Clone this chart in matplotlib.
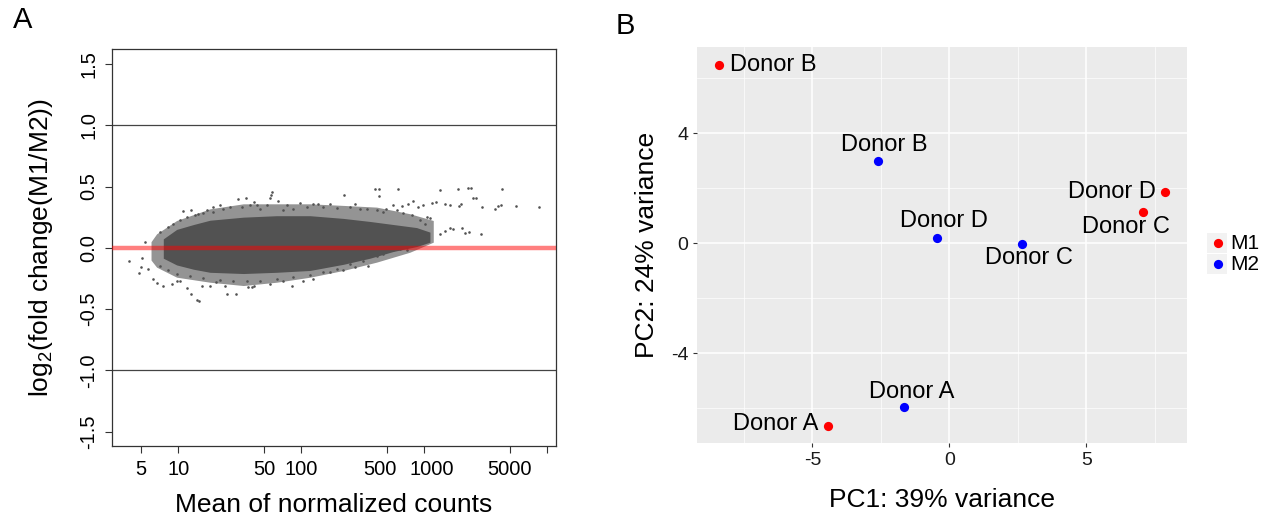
import numpy as np
import matplotlib
matplotlib.use("Agg")
from matplotlib import pyplot as plt
from matplotlib.patches import Rectangle
from matplotlib.ticker import NullLocator
from matplotlib.transforms import ScaledTranslation

plt.rcParams["font.family"] = ["Liberation Sans", "DejaVu Sans"]

# ---- panel A: MA plot (dense core as envelopes + individually read points)
core_mean = [7.55, 9.7, 13.3, 18.1, 33.8, 63.1, 118, 220, 363, 562, 870, 1117]
core_hi = [0.073, 0.150, 0.190, 0.225, 0.250, 0.262, 0.262, 0.240, 0.215, 0.190, 0.165, 0.128]
core_lo = [-0.085, -0.140, -0.175, -0.200, -0.210, -0.200, -0.185, -0.135, -0.085, -0.030, 0.010, 0.046]

halo_mean = [6.0, 6.66, 9.7, 18.1, 33.8, 63.1, 118, 220, 411, 767, 1189]
halo_hi = [0.05, 0.114, 0.223, 0.318, 0.359, 0.359, 0.359, 0.346, 0.332, 0.278, 0.223]
halo_lo = [-0.10, -0.158, -0.240, -0.281, -0.308, -0.281, -0.240, -0.185, -0.117, -0.036, 0.046]

out_mean = [398, 432, 609, 1346, 1898, 2292, 2409, 4335, 429, 224, 2500, 2630,
            2978, 3777, 4020, 4227, 5600, 8610, 1152, 1250, 1479, 1626, 1923, 1996,
            2905, 2335, 2153, 2023, 1626, 1730, 1479, 1346, 817, 986, 898, 1050,
            1117, 744, 657, 561, 495, 57.5, 56.8, 55.7, 97.7, 125, 138, 171, 274,
            301, 65.2, 35.5, 30.8, 41.3, 43.4, 21.8, 19.1, 17.0, 12.8, 11.0, 14.6, 71.6,
            3.97, 4.82, 5.04, 5.36, 6.26, 6.66, 7.55, 9.7, 11.7, 12.8, 14.3, 14.8,
            18.1, 24.0, 24.8, 29.5, 37.1, 39.5, 41.3, 55.7, 83.6, 104, 124, 171, 220,
            274, 320, 352, 466, 527, 721, 5.70, 4.94, 8.83, 10.3, 15.5, 20.3, 71.6]
out_lfc = [0.482, 0.482, 0.476, 0.468, 0.482, 0.487, 0.487, 0.482, 0.422, 0.427, 0.408, 0.408,
           0.337, 0.313, 0.340, 0.346, 0.340, 0.337, 0.365, 0.373, 0.354, 0.348, 0.343, 0.359,
           0.109, 0.128, 0.120, 0.163, 0.161, 0.155, 0.136, 0.114, 0.381, 0.351, 0.332, 0.250,
           0.242, 0.359, 0.340, 0.346, 0.318, 0.455, 0.427, 0.408, 0.365, 0.359, 0.354, 0.359, 0.359,
           0.318, 0.378, 0.408, 0.400, 0.373, 0.351, 0.351, 0.337, 0.305, 0.305, 0.297, 0.278, 0.305,
           -0.104, -0.207, -0.082, 0.046, -0.254, -0.289, -0.308, -0.267, -0.327, -0.376, -0.430, -0.438,
           -0.308, -0.308, -0.376, -0.376, -0.316, -0.321, -0.308, -0.294, -0.308, -0.267, -0.254, -0.199, -0.185,
           -0.158, -0.104, -0.150, -0.049, -0.022, -0.017, -0.177, -0.158, -0.294, -0.267, -0.308, -0.281, -0.267]

# points along the fuzzy upper and lower edges of the cloud
edge_mean = [7.10, 8.30, 9.12, 10.3, 11.7, 13.7, 16.0, 19.3, 23.2, 26.4, 32.8, 38.3, 46.2, 52.4,
             76.2, 86.3, 111, 151, 194, 249, 341, 411, 466, 598, 678, 793, 927, 1019,
             7.10, 8.30, 9.7, 12.4, 16.0, 21.8, 28.0, 36.0, 46.2, 63.1, 86.3, 118, 151, 194,
             249, 320, 411, 561, 637]
edge_lfc = [0.128, 0.169, 0.196, 0.223, 0.250, 0.264, 0.283, 0.291, 0.318, 0.332, 0.332, 0.346, 0.318, 0.346,
            0.346, 0.318, 0.332, 0.337, 0.327, 0.332, 0.318, 0.310, 0.291, 0.305, 0.283, 0.264, 0.223, 0.196,
            -0.145, -0.185, -0.213, -0.234, -0.245, -0.262, -0.267, -0.273, -0.267, -0.254, -0.240, -0.218, -0.199, -0.172,
            -0.136, -0.082, -0.063, -0.022, -0.008]

xticks_a = [5, 10, 50, 100, 500, 1000, 5000, 10000]
xticklabels_a = ["5", "10", "50", "100", "500", "1000", "5000", ""]
yticks_a = [-1.5, -1.0, -0.5, 0.0, 0.5, 1.0, 1.5]

# ---- panel B: PCA
donors = ["Donor A", "Donor B", "Donor C", "Donor D"]
m1_pc1 = [-4.44, -8.41, 7.08, 7.85]
m1_pc2 = [-6.63, 6.47, 1.14, 1.88]
m2_pc1 = [-1.66, -2.61, 2.65, -0.45]
m2_pc2 = [-5.95, 2.99, -0.01, 0.18]
xticks_b = [-5, 0, 5]
yticks_b = [-4, 0, 4]
groups = ["M1", "M2"]
group_colors = ["#FF0000", "#0000FF"]

# label placement (offset in points, alignment) per donor
m1_lab = [((-6.8, 1.0), "right"), ((8, 0), "left"), ((-12.8, -10.5), "center"), ((-6.5, 0), "right")]
m2_lab = [((5.3, 11), "center"), ((4.5, 11.5), "center"), ((4.8, -10.5), "center"), ((4.8, 12.5), "center")]

grey_pts = "#525252"

fig = plt.figure(figsize=(12.74, 5.17), dpi=100)

# ================= A
ax = fig.add_axes([0.0881, 0.1368, 0.3481, 0.7678])
ax.set_xscale("log")
ax.fill_between(halo_mean, halo_lo, halo_hi, color=grey_pts, alpha=0.62, lw=0, zorder=1)
ax.fill_between(core_mean, core_lo, core_hi, color=grey_pts, lw=0, zorder=2)
ax.scatter(edge_mean, edge_lfc, s=3.5, color=grey_pts, lw=0, zorder=3)
ax.scatter(out_mean, out_lfc, s=3.5, color=grey_pts, lw=0, zorder=3)
ax.axhline(1.0, color="#444444", lw=0.9, zorder=2)
ax.axhline(-1.0, color="#444444", lw=0.9, zorder=2)
ax.axhline(0.0, color=(1, 0, 0, 0.5), lw=3.2, zorder=4)
ax.set_xlim(2.90, 11800)
ax.set_ylim(-1.62, 1.62)
ax.set_xticks(xticks_a)
ax.set_xticklabels(xticklabels_a, fontsize=14.5)
ax.xaxis.set_minor_locator(NullLocator())
ax.set_yticks(yticks_a)
ax.set_yticklabels([f"{v:.1f}" for v in yticks_a], fontsize=14.5, rotation=90, va="center")
ax.tick_params(axis="both", direction="out", length=5, width=0.8, color="#333333", pad=5)
# the 500 and 1000 labels sit slightly apart in the reference
for lab, dx in zip(ax.get_xticklabels()[4:6], (-7, 7.5)):
    lab.set_transform(lab.get_transform() + ScaledTranslation(dx / 100, 0, fig.dpi_scale_trans))
for s in ax.spines.values():
    s.set_linewidth(0.9)
    s.set_color("#333333")
ax.set_xlabel("Mean of normalized counts", fontsize=19, va="baseline")
ax.xaxis.set_label_coords(0.5, -0.165)
ax.set_ylabel(r"$\mathregular{log_2}$(fold change(M1/M2))", fontsize=19)
ax.yaxis.set_label_coords(-0.128, 0.5)
fig.text(22.7 / 1274, 1 - 20 / 517, "A", fontsize=21, ha="center", va="center")

# ================= B
bx = fig.add_axes([0.5469, 0.1426, 0.3846, 0.7659])
bx.set_facecolor("#EBEBEB")
for s in bx.spines.values():
    s.set_visible(False)
bx.set_xlim(-9.22, 8.66)
bx.set_ylim(-7.27, 7.13)
bx.set_xticks(xticks_b)
bx.set_xticklabels([str(v) for v in xticks_b])
bx.set_yticks(yticks_b)
bx.set_yticklabels([str(v) for v in yticks_b])
bx.set_xticks([-7.5, -2.5, 2.5, 7.5], minor=True)
bx.set_yticks([-6, -2, 2, 6], minor=True)
bx.grid(which="major", color="white", lw=1.1)
bx.grid(which="minor", color="white", lw=0.5)
bx.set_axisbelow(True)
bx.tick_params(which="major", length=3, width=0.8, color="#333333", labelsize=14,
               labelcolor="#1a1a1a", pad=3)
bx.tick_params(which="minor", length=0)
bx.scatter(m1_pc1, m1_pc2, s=44, color=group_colors[0], lw=0, zorder=3)
bx.scatter(m2_pc1, m2_pc2, s=44, color=group_colors[1], lw=0, zorder=3)
for xs, ys, labs in [(m1_pc1, m1_pc2, m1_lab), (m2_pc1, m2_pc2, m2_lab)]:
    for name, x, y, (off, ha) in zip(donors, xs, ys, labs):
        bx.annotate(name, (x, y), xytext=off, textcoords="offset points",
                    ha=ha, va="center", fontsize=17, color="black", zorder=4)
bx.set_xlabel("PC1: 39% variance", fontsize=19, va="baseline")
bx.xaxis.set_label_coords(0.5, -0.160)
bx.set_ylabel("PC2: 24% variance", fontsize=19)
bx.yaxis.set_label_coords(-0.077, 0.5)
fig.text(625 / 1274, 1 - 26 / 517, "B", fontsize=21, ha="center", va="center")

# ggplot-style legend: grey key squares with a dot, label to the right
lax = fig.add_axes([1207 / 1274, 1 - 274 / 517, 20 / 1274, 41 / 517])
lax.set_xlim(0, 20)
lax.set_ylim(41, 0)
lax.axis("off")
for i, (g, c) in enumerate(zip(groups, group_colors)):
    top = 0.3 + 21 * i
    lax.add_patch(Rectangle((0, top), 20, 20, facecolor="#F2F2F2", edgecolor="none"))
    lax.scatter([10.8], [top + 10], s=44, color=c, lw=0, zorder=3)
    fig.text(1230 / 1274, 1 - (243.3 + 21 * i) / 517, g, fontsize=15,
             ha="left", va="center")

fig.savefig("out.png", dpi=100)
